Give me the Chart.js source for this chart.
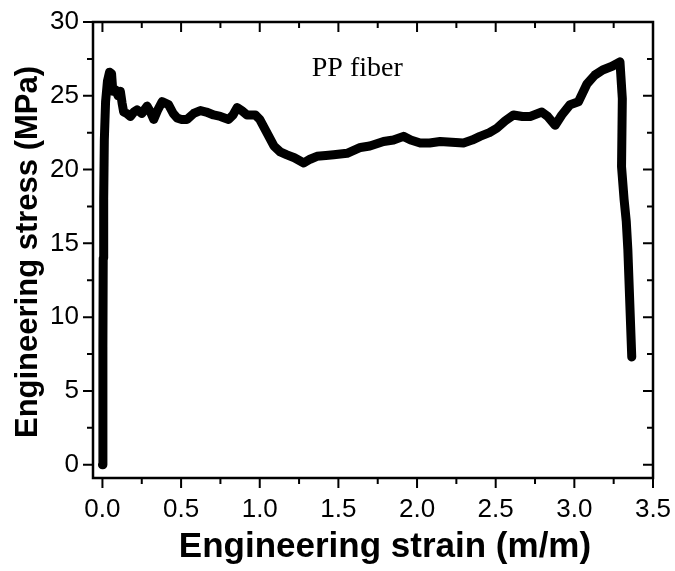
<!DOCTYPE html>
<html>
<head>
<meta charset="utf-8">
<script src="https://cdn.jsdelivr.net/npm/chart.js@4.4.1/dist/chart.umd.min.js"></script>
<style>
  body { margin: 0; background: #fff; }
  #wrap { width: 675px; height: 571px; }
</style>
</head>
<body>
<div id="wrap"><canvas id="stressChart" width="675" height="571"></canvas></div>
<script>
// strain (m/m) and engineering stress (MPa)
const strain = [
  0, 0.003, 0.005, 0.008, 0.012, 0.02, 0.032, 0.045, 0.058, 0.066, 0.083, 0.1,
  0.114, 0.125, 0.135, 0.155, 0.178, 0.2, 0.22, 0.25, 0.284, 0.305, 0.326, 0.35,
  0.379, 0.42, 0.45, 0.475, 0.5, 0.538, 0.58, 0.623, 0.66, 0.707, 0.75, 0.802,
  0.83, 0.856, 0.885, 0.919, 0.972, 1.0, 1.04, 1.09, 1.13, 1.173, 1.22, 1.28,
  1.32, 1.364, 1.42, 1.47, 1.555, 1.64, 1.7, 1.787, 1.85, 1.914, 1.96, 2.02,
  2.08, 2.147, 2.22, 2.295, 2.35, 2.4, 2.46, 2.507, 2.56, 2.613, 2.67, 2.719,
  2.793, 2.83, 2.878, 2.92, 2.973, 3.026, 3.08, 3.13, 3.18, 3.24, 3.29, 3.305,
  3.3, 3.316, 3.33, 3.34, 3.365
];
const stress = [
  0, 8, 14, 18, 22, 24.6, 26.0, 26.6, 26.5, 25.3, 25.4, 25.0,
  25.3, 24.5, 23.9, 23.8, 23.6, 23.9, 24.05, 23.8, 24.3, 23.9, 23.4, 24.0,
  24.6, 24.4, 23.8, 23.5, 23.4, 23.4, 23.8, 24.0, 23.9, 23.7, 23.6, 23.4,
  23.7, 24.2, 24.0, 23.7, 23.7, 23.4, 22.6, 21.6, 21.2, 21.0, 20.8, 20.45,
  20.7, 20.9, 20.95, 21.0, 21.1, 21.5, 21.6, 21.9, 22.0, 22.25, 22.0, 21.8,
  21.8, 21.9, 21.85, 21.8, 22.0, 22.25, 22.5, 22.8, 23.3, 23.7, 23.6, 23.6,
  23.9, 23.6, 23.0, 23.7, 24.4, 24.6, 25.8, 26.4, 26.75, 27.0, 27.3, 24.8,
  20.2, 18.0, 16.5, 14.6, 7.3
];

const xTicks = [0, 0.5, 1.0, 1.5, 2.0, 2.5, 3.0, 3.5];
const yTicks = [0, 5, 10, 15, 20, 25, 30];
const xTitle = "Engineering strain (m/m)";
const yTitle = "Engineering stress (MPa)";
const label = "PP fiber";

const mids = (arr) => arr.slice(1).map((v, i) => (v + arr[i]) / 2);

const frameTicks = {
  id: "frameTicks",
  afterDatasetsDraw(chart) {
    const { ctx, chartArea: a, scales: { x, y } } = chart;
    ctx.save();
    ctx.strokeStyle = "#000";
    ctx.lineWidth = 2.5;
    ctx.strokeRect(a.left, a.top, a.right - a.left, a.bottom - a.top);
    ctx.lineWidth = 2;
    ctx.beginPath();
    const xt = (v, len) => {
      const p = x.getPixelForValue(v);
      ctx.moveTo(p, a.bottom); ctx.lineTo(p, a.bottom + len);
      ctx.moveTo(p, a.top); ctx.lineTo(p, a.top + len);
    };
    const yt = (v, len) => {
      const p = y.getPixelForValue(v);
      ctx.moveTo(a.left, p); ctx.lineTo(a.left - len, p);
      ctx.moveTo(a.right, p); ctx.lineTo(a.right - len, p);
    };
    xTicks.forEach((v) => xt(v, 10));
    mids(xTicks).forEach((v) => xt(v, 6));
    yTicks.forEach((v) => yt(v, 10));
    mids(yTicks).forEach((v) => yt(v, 6));
    ctx.stroke();

    ctx.fillStyle = "#000";
    ctx.font = '28px "Liberation Serif"';
    ctx.textAlign = "center";
    ctx.textBaseline = "alphabetic";
    ctx.fillText(label, x.getPixelForValue(1.62), y.getPixelForValue(26.35));

    // axis titles
    ctx.textBaseline = "middle";
    ctx.font = 'bold 35px "Liberation Sans"';
    ctx.fillText(xTitle, (a.left + a.right) / 2 + 12, 547);
    ctx.translate(28, (a.top + a.bottom) / 2 + 2);
    ctx.rotate(-Math.PI / 2);
    ctx.font = 'bold 31px "Liberation Sans"';
    ctx.fillText(yTitle, 0, 0);
    ctx.restore();
  },
};

const points = strain.map((v, i) => ({ x: v, y: stress[i] }));

new Chart(document.getElementById("stressChart").getContext("2d"), {
  type: "line",
  data: {
    datasets: [
      {
        data: points,
        borderColor: "#000",
        borderWidth: 9,
        borderJoinStyle: "round",
        borderCapStyle: "round",
        pointRadius: 0,
        tension: 0,
        fill: false,
      },
    ],
  },
  options: {
    responsive: false,
    animation: false,
    layout: { padding: { top: 22, right: 22, left: 0, bottom: 0 } },
    plugins: { legend: { display: false }, tooltip: { enabled: false } },
    scales: {
      x: {
        type: "linear",
        min: -0.06,
        max: 3.5,
        afterBuildTicks: (s) => { s.ticks = xTicks.map((v) => ({ value: v })); },
        afterFit: (s) => { s.height = 93; s.paddingLeft = 0; s.paddingRight = 0; },
        grid: { display: false, drawTicks: false },
        border: { display: false },
        ticks: {
          autoSkip: false,
          maxRotation: 0,
          padding: 16,
          color: "#000",
          font: { family: "Liberation Sans", size: 26 },
          callback: (v) => Number(v).toFixed(1),
        },
      },
      y: {
        min: -0.9,
        max: 30,
        afterBuildTicks: (s) => { s.ticks = yTicks.map((v) => ({ value: v })); },
        afterFit: (s) => { s.width = 93; s.paddingTop = 0; s.paddingBottom = 0; },
        grid: { display: false, drawTicks: false },
        border: { display: false },
        ticks: {
          autoSkip: false,
          padding: 14,
          color: "#000",
          font: { family: "Liberation Sans", size: 26 },
        },
      },
    },
  },
  plugins: [frameTicks],
});
</script>
</body>
</html>
